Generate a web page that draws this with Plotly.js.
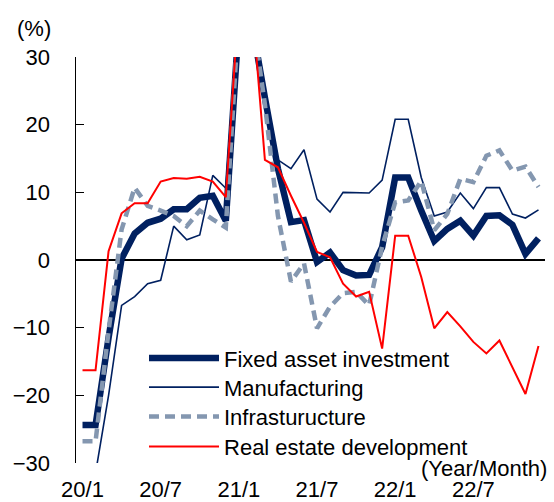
<!DOCTYPE html>
<html>
<head>
<meta charset="utf-8">
<script src="https://cdn.plot.ly/plotly-3.0.1.min.js"></script>
<style>
html, body { margin: 0; padding: 0; background: #ffffff; }
#chart { width: 554px; height: 502px; }
</style>
</head>
<body>
<div id="chart"></div>
<script>
const months = [
  '20/1','20/2','20/3','20/4','20/5','20/6','20/7','20/8','20/9','20/10','20/11','20/12',
  '21/1','21/2','21/3','21/4','21/5','21/6','21/7','21/8','21/9','21/10','21/11','21/12',
  '22/1','22/2','22/3','22/4','22/5','22/6','22/7','22/8','22/9','22/10','22/11','22/12'
];
const tickMonths = ['20/1','20/7','21/1','21/7','22/1','22/7'];
const yTicks = [-30, -20, -10, 0, 10, 20, 30];

const fixedAsset = [
  -24.4, -24.4, -11.5, 0.2, 3.9, 5.5, 6.1, 7.5, 7.5, 9.2, 9.5, 5.8,
  35.0, 35.0, 24.0, 13.5, 5.6, 5.9, -0.3, 1.1, -1.5, -2.3, -2.2, 1.9,
  12.2, 12.2, 7.3, 2.8, 4.6, 5.8, 3.6, 6.5, 6.6, 5.2, 0.9, 3.2
];
const manufacturing = [
  -31.5, -31.5, -20.0, -6.7, -5.4, -3.5, -3.0, 5.0, 3.0, 3.7, 12.5, 10.6,
  37.3, 37.3, 25.0, 14.8, 13.5, 16.3, 9.0, 7.1, 10.0, 10.0, 9.9, 11.8,
  20.8, 20.8, 12.2, 6.5, 7.1, 9.9, 7.6, 10.7, 10.7, 6.8, 6.2, 7.4
];
const infrastructure = [
  -26.8, -26.8, -10.5, 4.5, 10.7, 8.0, 7.3, 6.5, 5.0, 7.3, 6.0, 4.8,
  36.6, 36.6, 23.0, 6.5, -3.2, -0.5, -10.1, -6.9, -4.9, -4.7, -6.7, 2.0,
  8.5, 8.8, 11.7, 4.4, 6.8, 12.0, 11.5, 15.4, 16.2, 13.2, 13.8, 10.8
];
const realEstate = [
  -16.3, -16.3, 1.3, 6.9, 8.4, 8.4, 11.6, 12.1, 12.0, 12.3, 11.6, 9.3,
  38.3, 38.3, 14.8, 13.7, 9.5, 5.5, 1.2, 0.4, -3.5, -5.4, -4.7, -13.1,
  3.6, 3.6, -2.5, -10.1, -7.7, -9.8, -12.1, -13.8, -11.9, -15.8, -19.8, -12.7
];

const seriesNames = ['Fixed asset investment', 'Manufacturing', 'Infrasturucture', 'Real estate development'];
const FONT = 'Liberation Sans, Arial, Helvetica, sans-serif';

const traces = [
  { x: months, y: fixedAsset, name: seriesNames[0], type: 'scatter', mode: 'lines', legend: 'legend',
    line: { color: '#002060', width: 6.5 } },
  { x: months, y: manufacturing, name: seriesNames[1], type: 'scatter', mode: 'lines', legend: 'legend2',
    line: { color: '#002060', width: 1.6 } },
  { x: months, y: infrastructure, name: seriesNames[2], type: 'scatter', mode: 'lines', legend: 'legend3',
    line: { color: '#8497B0', width: 4.5, dash: '10px,6px' } },
  { x: months, y: realEstate, name: seriesNames[3], type: 'scatter', mode: 'lines', legend: 'legend4',
    line: { color: '#FF0000', width: 2 } }
];

function legendAt(yPaper) {
  return {
    x: 0.145, y: yPaper, xanchor: 'left', yanchor: 'top',
    bgcolor: 'rgba(0,0,0,0)', borderwidth: 0,
    font: { family: FONT, size: 22, color: '#000000' },
    itemwidth: 70
  };
}

const layout = {
  width: 554, height: 502,
  margin: { l: 76, r: 9, t: 57, b: 39, pad: 0 },
  paper_bgcolor: '#ffffff', plot_bgcolor: '#ffffff',
  font: { family: FONT, size: 22, color: '#000000' },
  showlegend: true,
  legend: legendAt(0.3096),
  legend2: legendAt(0.2382),
  legend3: legendAt(0.1658),
  legend4: legendAt(0.0919),
  xaxis: {
    type: 'category', categoryorder: 'array', categoryarray: months,
    range: [-0.5, months.length - 0.5],
    tickmode: 'array', tickvals: tickMonths, ticktext: tickMonths,
    showline: false, showgrid: false, zeroline: false, ticks: '',
    tickfont: { family: FONT, size: 22, color: '#000000' },
    ticklabelstandoff: 11, fixedrange: true
  },
  yaxis: {
    range: [-30, 30], tickmode: 'array', tickvals: yTicks,
    ticks: 'inside', ticklen: 8, tickwidth: 1.5, tickcolor: '#000000',
    showline: true, linecolor: '#000000', linewidth: 1.5,
    showgrid: false, zeroline: true, zerolinecolor: '#000000', zerolinewidth: 1.5,
    tickfont: { family: FONT, size: 22, color: '#000000' },
    ticklabelstandoff: 20, fixedrange: true
  },
  annotations: [
    { text: '(%)', xref: 'paper', yref: 'paper', x: -0.0885, y: 1.069,
      xanchor: 'center', yanchor: 'middle', showarrow: false,
      font: { family: FONT, size: 22, color: '#000000' } },
    { text: '(Year/Month)', xref: 'paper', yref: 'paper', x: 1.0085, y: -0.014,
      xanchor: 'right', yanchor: 'middle', showarrow: false,
      font: { family: FONT, size: 22, color: '#000000' } }
  ]
};

Plotly.newPlot('chart', traces, layout, { staticPlot: true, displayModeBar: false });
</script>
</body>
</html>
